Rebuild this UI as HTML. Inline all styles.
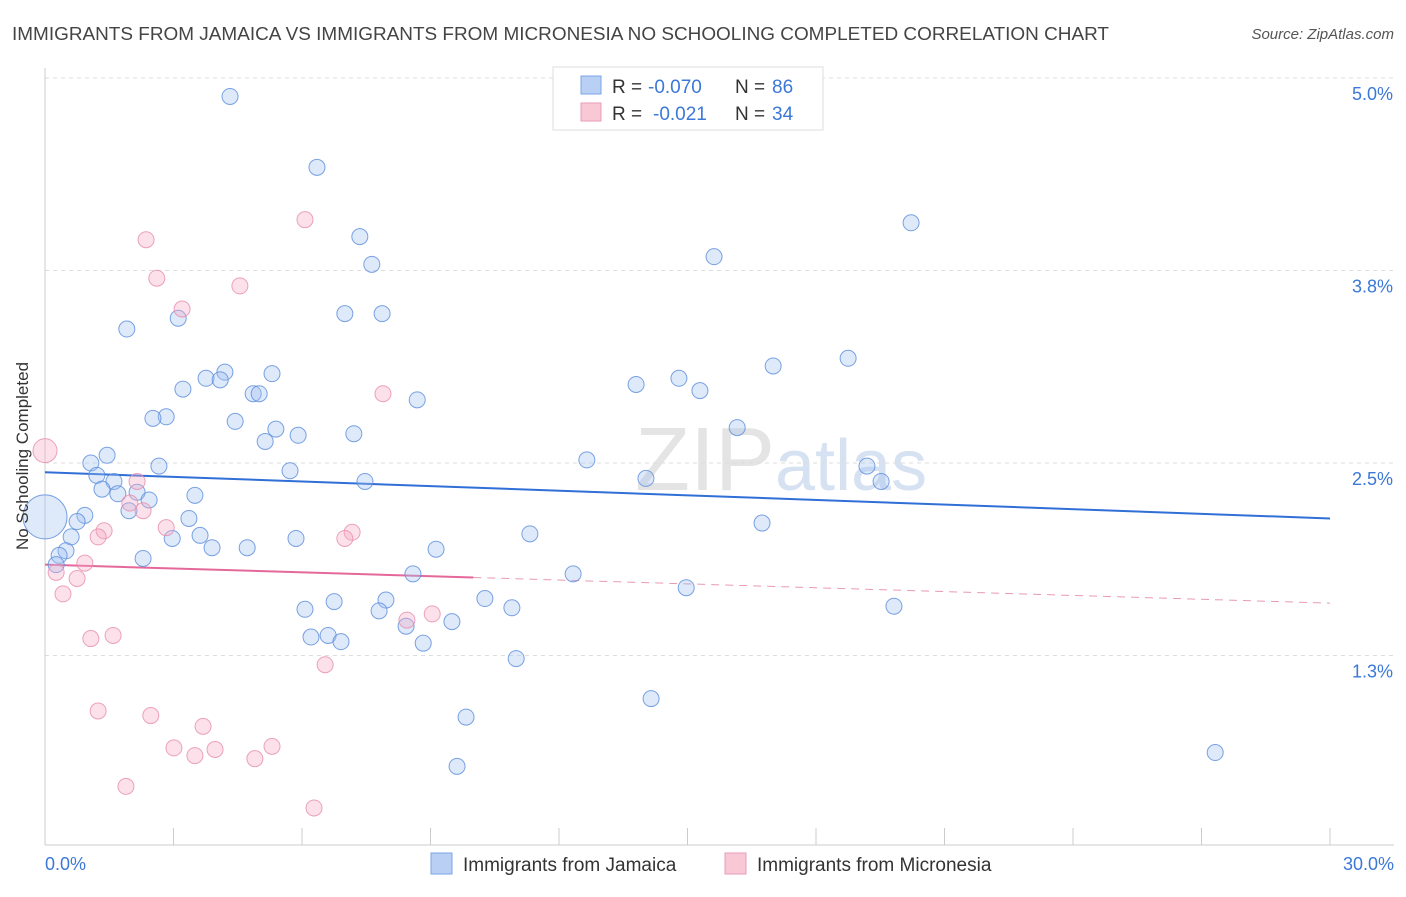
<!DOCTYPE html>
<html><head><meta charset="utf-8"><style>
body{margin:0;background:#fff;font-family:"Liberation Sans",sans-serif;}
svg text{font-family:"Liberation Sans",sans-serif;}
</style></head><body>
<svg id="chart" width="1406" height="892">
<text x="12" y="40" font-size="18" fill="#444" textLength="1097" lengthAdjust="spacingAndGlyphs">IMMIGRANTS FROM JAMAICA VS IMMIGRANTS FROM MICRONESIA NO SCHOOLING COMPLETED CORRELATION CHART</text>
<text x="1394" y="39" font-size="15" fill="#555" font-style="italic" text-anchor="end">Source: ZipAtlas.com</text>
<text x="635" y="490" font-size="90" fill="#e4e4e4" font-family="Liberation Serif">ZIP<tspan fill="#d6e2f2" font-family="Liberation Sans" font-size="72">atlas</tspan></text>
<g id="grid"></g><g id="axes"></g><g id="trends"></g><g id="dots"></g>
<text transform="translate(28,456) rotate(-90)" font-size="17" fill="#333" text-anchor="middle">No Schooling Completed</text>
<g>
<rect x="553" y="67" width="270" height="63" fill="#fff" stroke="#ddd"/>
<rect x="581" y="76" width="20" height="18" fill="#b9d0f4" stroke="#7aa6e6"/>
<text x="612" y="93" font-size="19" fill="#333">R =</text>
<text x="648" y="93" font-size="19" fill="#3b78d8">-0.070</text>
<text x="735" y="93" font-size="19" fill="#333">N =</text>
<text x="772" y="93" font-size="19" fill="#3b78d8">86</text>
<rect x="581" y="103" width="20" height="18" fill="#f8c8d6" stroke="#ea9cb6"/>
<text x="612" y="120" font-size="19" fill="#333">R =</text>
<text x="653" y="120" font-size="19" fill="#3b78d8">-0.021</text>
<text x="735" y="120" font-size="19" fill="#333">N =</text>
<text x="772" y="120" font-size="19" fill="#3b78d8">34</text>
</g>
<g>
<rect x="431" y="853" width="21" height="21" fill="#b9d0f4" stroke="#7aa6e6"/>
<text x="463" y="871" font-size="19" fill="#333">Immigrants from Jamaica</text>
<rect x="725" y="853" width="21" height="21" fill="#f8c8d6" stroke="#ea9cb6"/>
<text x="757" y="871" font-size="19" fill="#333">Immigrants from Micronesia</text>
</g>
</svg>
<script>
const yTicks=[1.25,2.5,3.75,5.0];
const yTickLabels=["1.3%","2.5%","3.8%","5.0%"];
const xTicks=[0,3,6,9,12,15,18,21,24,27,30];
const xTickLabels=["0.0%","30.0%"];
const jamX=[4.32,6.35,7.35,7.63,7.00,7.87,1.91,3.11,20.22,15.62,18.75,17.00,4.20,3.76,4.09,5.30,3.22,4.86,5.00,13.80,14.80,15.29,8.69,2.83,2.52,4.44,5.39,5.91,5.14,7.21,16.16,1.07,1.45,2.66,1.21,1.61,1.33,1.70,2.15,2.43,3.50,5.72,7.47,12.65,14.03,19.19,19.52,1.96,0.93,0.75,3.36,11.32,16.74,2.97,3.62,3.90,4.72,5.86,9.13,0.61,0.49,0.33,0.26,2.29,8.59,12.33,14.97,6.07,6.75,7.96,7.80,10.27,10.90,9.50,8.43,19.82,6.21,6.61,6.91,8.83,11.00,14.15,9.83,9.62,27.32,0.0];
const jamY=[4.88,4.42,3.97,3.79,3.47,3.47,3.37,3.44,4.06,3.84,3.18,3.13,3.09,3.05,3.04,3.08,2.98,2.95,2.95,3.01,3.05,2.97,2.91,2.80,2.79,2.77,2.72,2.68,2.64,2.69,2.73,2.50,2.55,2.48,2.42,2.38,2.33,2.30,2.31,2.26,2.29,2.45,2.38,2.52,2.40,2.48,2.38,2.19,2.16,2.12,2.14,2.04,2.11,2.01,2.03,1.95,1.95,2.01,1.94,2.02,1.93,1.90,1.84,1.88,1.78,1.78,1.69,1.55,1.60,1.61,1.54,1.62,1.56,1.47,1.44,1.57,1.37,1.38,1.34,1.33,1.23,0.97,0.85,0.53,0.62,2.15];
const micX=[0,2.36,6.07,2.61,4.55,3.20,7.89,2.15,1.98,2.29,1.38,2.83,7.17,7.00,1.24,0.93,0.26,0.75,0.42,9.04,8.45,1.59,1.07,6.54,1.24,2.47,3.69,3.01,3.50,3.97,5.30,4.90,1.89,6.28];
const micY=[2.58,3.95,4.08,3.70,3.65,3.50,2.95,2.38,2.24,2.19,2.06,2.08,2.05,2.01,2.02,1.85,1.79,1.75,1.65,1.52,1.48,1.38,1.36,1.19,0.89,0.86,0.79,0.65,0.60,0.64,0.66,0.58,0.40,0.26];
const jamTrend=[2.44,2.14];
const micTrend=[1.84,1.59];
const micSolidEnd=10;
const NS="http://www.w3.org/2000/svg";
const X=v=>45+v*(1285/30), Y=v=>848-v*154;
function mk(tag,attrs,parent){const e=document.createElementNS(NS,tag);for(const k in attrs)e.setAttribute(k,attrs[k]);parent.appendChild(e);return e;}
const grid=document.getElementById('grid'),axes=document.getElementById('axes'),trends=document.getElementById('trends'),dots=document.getElementById('dots');
mk('line',{x1:45,x2:1394,y1:78,y2:78,stroke:'#ddd','stroke-dasharray':'4,4'},grid);
yTicks.forEach((t,i)=>{
 const l=mk('line',{x1:45,x2:1394,y1:Y(t),y2:Y(t),stroke:'#ddd','stroke-dasharray':'4,4'},grid);
 
 
 const tx=mk('text',{x:1393,y:Y(t)+22,'font-size':18,fill:'#3b78d8','text-anchor':'end'},axes);
 tx.textContent=yTickLabels[i];
 
 
});
const xa=mk('line',{x1:45,x2:1394,y1:845,y2:845,stroke:'#ccc'},axes);


const ya=mk('line',{x1:45,x2:45,y1:68,y2:845,stroke:'#ccc'},axes);


xTicks.forEach(t=>{const l=mk('line',{x1:X(t),x2:X(t),y1:828,y2:845,stroke:'#ccc'},axes);
 
 });
[[0,'start',45],[30,'end',1394]].forEach((d,i)=>{const tx=mk('text',{x:d[2],y:870,'font-size':18,fill:'#3b78d8','text-anchor':d[1]},axes);
 tx.textContent=xTickLabels[i];
 
 });
jamX.forEach((x,i)=>{const big=i===jamX.length-1;
 const c=mk('circle',{cx:X(x),cy:Y(jamY[i]),r:big?22:8,fill:'rgba(160,192,240,0.35)',stroke:'rgba(90,140,220,0.8)','stroke-width':1},dots);
 
 });
micX.forEach((x,i)=>{
 const c=mk('circle',{cx:X(x),cy:Y(micY[i]),r:i===0?12:8,fill:'rgba(245,170,195,0.35)',stroke:'rgba(230,140,175,0.8)','stroke-width':1},dots);
 
 });
const jt=mk('line',{x1:X(0),y1:Y(jamTrend[0]),x2:X(30),y2:Y(jamTrend[1]),stroke:'#2f6fd6','stroke-width':2},trends);


const mid=micTrend[0]+(micTrend[1]-micTrend[0])*micSolidEnd/30;
const mt=mk('line',{x1:X(0),y1:Y(micTrend[0]),x2:X(micSolidEnd),y2:Y(mid),stroke:'#e5689a','stroke-width':2},trends);


const md=mk('line',{x1:X(micSolidEnd),y1:Y(mid),x2:X(30),y2:Y(micTrend[1]),stroke:'#e89ab5','stroke-width':1,'stroke-dasharray':'8,6'},trends);


</script>
</body></html>
